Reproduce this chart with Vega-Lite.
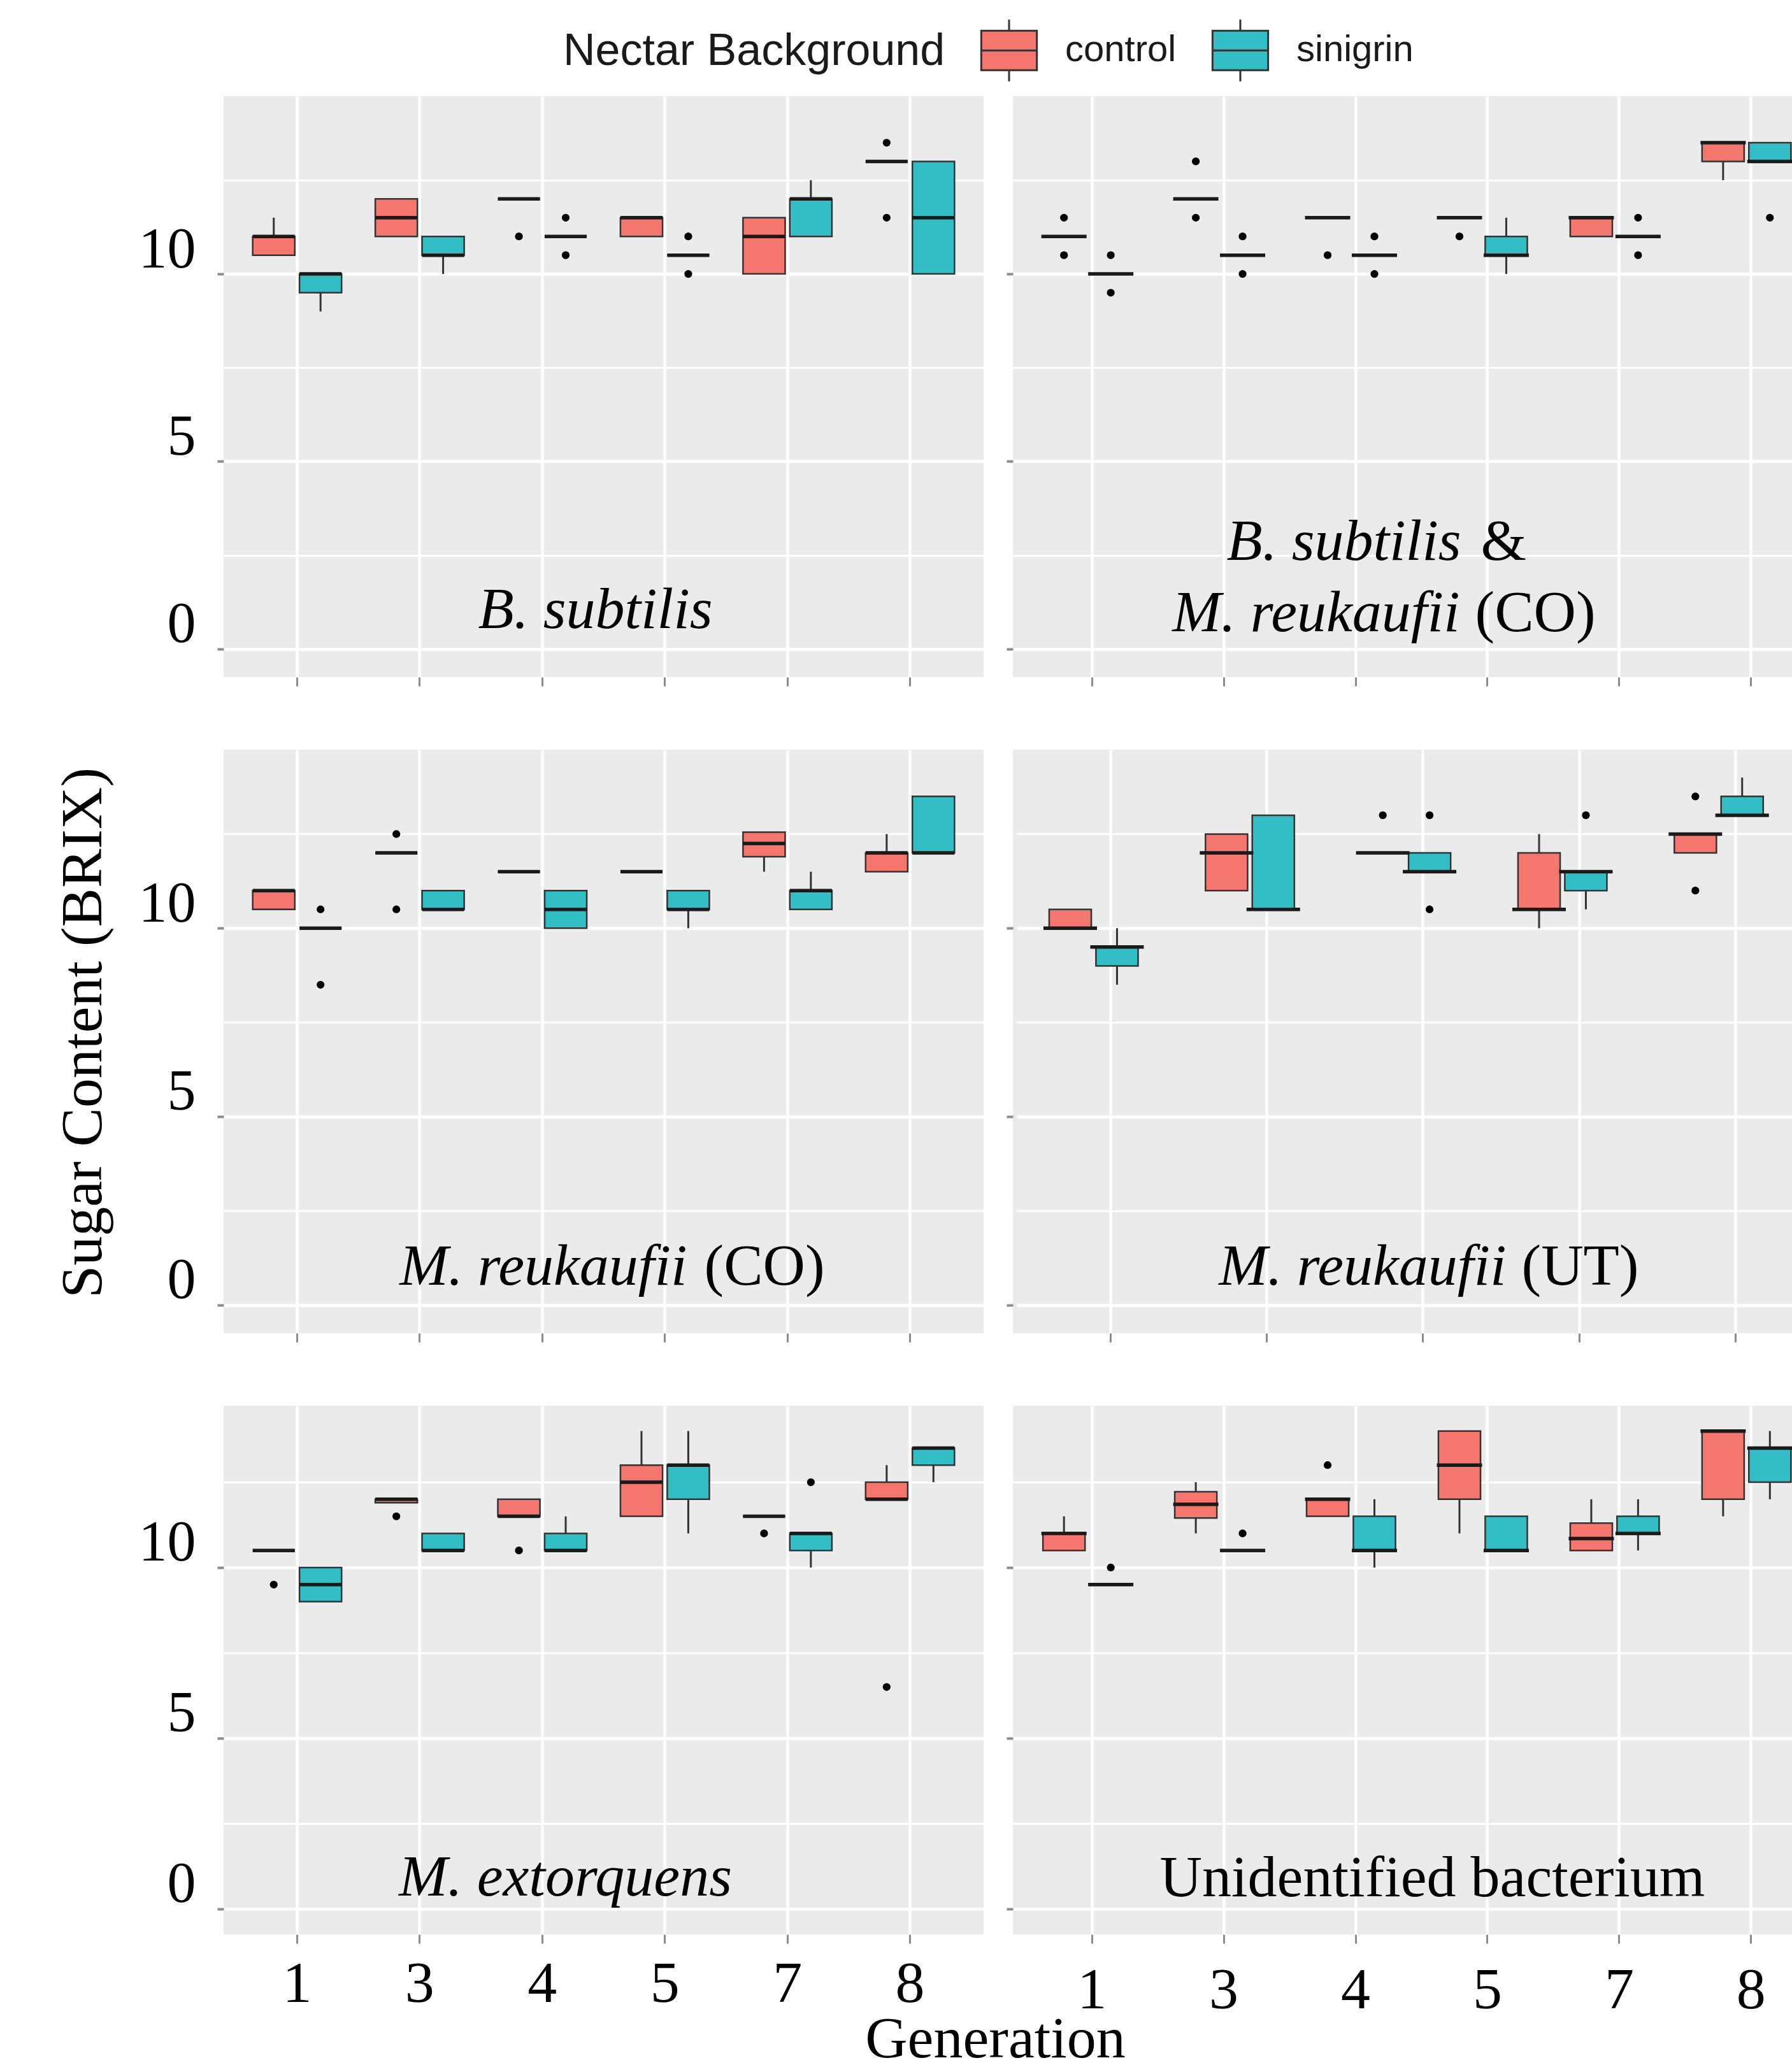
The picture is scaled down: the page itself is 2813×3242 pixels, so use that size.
{
"$schema":"https://vega.github.io/schema/vega-lite/v6.json",
"usermeta":{"embedOptions":{"actions":false}},
"background":"#FFFFFF",
"padding":{"left":83,"top":29,"right":0,"bottom":0},
"autosize":{"type":"pad"},
"datasets":{
"boxes":[
{"panel":"TL","gen":"1","bg":"control","lower":10.5,"q1":10.5,"median":11,"q3":11,"upper":11.5},
{"panel":"TL","gen":"1","bg":"sinigrin","lower":9,"q1":9.5,"median":10,"q3":10,"upper":10},
{"panel":"TL","gen":"3","bg":"control","lower":11,"q1":11,"median":11.5,"q3":12,"upper":12},
{"panel":"TL","gen":"3","bg":"sinigrin","lower":10,"q1":10.5,"median":10.5,"q3":11,"upper":11},
{"panel":"TL","gen":"4","bg":"control","lower":12,"q1":12,"median":12,"q3":12,"upper":12},
{"panel":"TL","gen":"4","bg":"sinigrin","lower":11,"q1":11,"median":11,"q3":11,"upper":11},
{"panel":"TL","gen":"5","bg":"control","lower":11,"q1":11,"median":11.5,"q3":11.5,"upper":11.5},
{"panel":"TL","gen":"5","bg":"sinigrin","lower":10.5,"q1":10.5,"median":10.5,"q3":10.5,"upper":10.5},
{"panel":"TL","gen":"7","bg":"control","lower":10,"q1":10,"median":11,"q3":11.5,"upper":11.5},
{"panel":"TL","gen":"7","bg":"sinigrin","lower":11,"q1":11,"median":12,"q3":12,"upper":12.5},
{"panel":"TL","gen":"8","bg":"control","lower":13,"q1":13,"median":13,"q3":13,"upper":13},
{"panel":"TL","gen":"8","bg":"sinigrin","lower":10,"q1":10,"median":11.5,"q3":13,"upper":13},
{"panel":"TR","gen":"1","bg":"control","lower":11,"q1":11,"median":11,"q3":11,"upper":11},
{"panel":"TR","gen":"1","bg":"sinigrin","lower":10,"q1":10,"median":10,"q3":10,"upper":10},
{"panel":"TR","gen":"3","bg":"control","lower":12,"q1":12,"median":12,"q3":12,"upper":12},
{"panel":"TR","gen":"3","bg":"sinigrin","lower":10.5,"q1":10.5,"median":10.5,"q3":10.5,"upper":10.5},
{"panel":"TR","gen":"4","bg":"control","lower":11.5,"q1":11.5,"median":11.5,"q3":11.5,"upper":11.5},
{"panel":"TR","gen":"4","bg":"sinigrin","lower":10.5,"q1":10.5,"median":10.5,"q3":10.5,"upper":10.5},
{"panel":"TR","gen":"5","bg":"control","lower":11.5,"q1":11.5,"median":11.5,"q3":11.5,"upper":11.5},
{"panel":"TR","gen":"5","bg":"sinigrin","lower":10,"q1":10.5,"median":10.5,"q3":11,"upper":11.5},
{"panel":"TR","gen":"7","bg":"control","lower":11,"q1":11,"median":11.5,"q3":11.5,"upper":11.5},
{"panel":"TR","gen":"7","bg":"sinigrin","lower":11,"q1":11,"median":11,"q3":11,"upper":11},
{"panel":"TR","gen":"8","bg":"control","lower":12.5,"q1":13,"median":13.5,"q3":13.5,"upper":13.5},
{"panel":"TR","gen":"8","bg":"sinigrin","lower":13,"q1":13,"median":13,"q3":13.5,"upper":13.5},
{"panel":"ML","gen":"1","bg":"control","lower":10.5,"q1":10.5,"median":11,"q3":11,"upper":11},
{"panel":"ML","gen":"1","bg":"sinigrin","lower":10,"q1":10,"median":10,"q3":10,"upper":10},
{"panel":"ML","gen":"3","bg":"control","lower":12,"q1":12,"median":12,"q3":12,"upper":12},
{"panel":"ML","gen":"3","bg":"sinigrin","lower":10.5,"q1":10.5,"median":10.5,"q3":11,"upper":11},
{"panel":"ML","gen":"4","bg":"control","lower":11.5,"q1":11.5,"median":11.5,"q3":11.5,"upper":11.5},
{"panel":"ML","gen":"4","bg":"sinigrin","lower":10,"q1":10,"median":10.5,"q3":11,"upper":11},
{"panel":"ML","gen":"5","bg":"control","lower":11.5,"q1":11.5,"median":11.5,"q3":11.5,"upper":11.5},
{"panel":"ML","gen":"5","bg":"sinigrin","lower":10,"q1":10.5,"median":10.5,"q3":11,"upper":11},
{"panel":"ML","gen":"7","bg":"control","lower":11.5,"q1":11.9,"median":12.25,"q3":12.55,"upper":12.55},
{"panel":"ML","gen":"7","bg":"sinigrin","lower":10.5,"q1":10.5,"median":11,"q3":11,"upper":11.5},
{"panel":"ML","gen":"8","bg":"control","lower":11.5,"q1":11.5,"median":12,"q3":12,"upper":12.5},
{"panel":"ML","gen":"8","bg":"sinigrin","lower":12,"q1":12,"median":12,"q3":13.5,"upper":13.5},
{"panel":"MR","gen":"1","bg":"control","lower":10,"q1":10,"median":10,"q3":10.5,"upper":10.5},
{"panel":"MR","gen":"1","bg":"sinigrin","lower":8.5,"q1":9,"median":9.5,"q3":9.5,"upper":10},
{"panel":"MR","gen":"3","bg":"control","lower":11,"q1":11,"median":12,"q3":12.5,"upper":12.5},
{"panel":"MR","gen":"3","bg":"sinigrin","lower":10.5,"q1":10.5,"median":10.5,"q3":13,"upper":13},
{"panel":"MR","gen":"4","bg":"control","lower":12,"q1":12,"median":12,"q3":12,"upper":12},
{"panel":"MR","gen":"4","bg":"sinigrin","lower":11.5,"q1":11.5,"median":11.5,"q3":12,"upper":12},
{"panel":"MR","gen":"5","bg":"control","lower":10,"q1":10.5,"median":10.5,"q3":12,"upper":12.5},
{"panel":"MR","gen":"5","bg":"sinigrin","lower":10.5,"q1":11,"median":11.5,"q3":11.5,"upper":11.5},
{"panel":"MR","gen":"7","bg":"control","lower":12,"q1":12,"median":12.5,"q3":12.5,"upper":12.5},
{"panel":"MR","gen":"7","bg":"sinigrin","lower":13,"q1":13,"median":13,"q3":13.5,"upper":14},
{"panel":"BL","gen":"1","bg":"control","lower":10.5,"q1":10.5,"median":10.5,"q3":10.5,"upper":10.5},
{"panel":"BL","gen":"1","bg":"sinigrin","lower":9,"q1":9,"median":9.5,"q3":10,"upper":10},
{"panel":"BL","gen":"3","bg":"control","lower":11.9,"q1":11.9,"median":12,"q3":12,"upper":12},
{"panel":"BL","gen":"3","bg":"sinigrin","lower":10.5,"q1":10.5,"median":10.5,"q3":11,"upper":11},
{"panel":"BL","gen":"4","bg":"control","lower":11.5,"q1":11.5,"median":11.5,"q3":12,"upper":12},
{"panel":"BL","gen":"4","bg":"sinigrin","lower":10.5,"q1":10.5,"median":10.5,"q3":11,"upper":11.5},
{"panel":"BL","gen":"5","bg":"control","lower":11.5,"q1":11.5,"median":12.5,"q3":13,"upper":14},
{"panel":"BL","gen":"5","bg":"sinigrin","lower":11,"q1":12,"median":13,"q3":13,"upper":14},
{"panel":"BL","gen":"7","bg":"control","lower":11.5,"q1":11.5,"median":11.5,"q3":11.5,"upper":11.5},
{"panel":"BL","gen":"7","bg":"sinigrin","lower":10,"q1":10.5,"median":11,"q3":11,"upper":11},
{"panel":"BL","gen":"8","bg":"control","lower":12,"q1":12,"median":12,"q3":12.5,"upper":13},
{"panel":"BL","gen":"8","bg":"sinigrin","lower":12.5,"q1":13,"median":13.5,"q3":13.5,"upper":13.5},
{"panel":"BR","gen":"1","bg":"control","lower":10.5,"q1":10.5,"median":11,"q3":11,"upper":11.5},
{"panel":"BR","gen":"1","bg":"sinigrin","lower":9.5,"q1":9.5,"median":9.5,"q3":9.5,"upper":9.5},
{"panel":"BR","gen":"3","bg":"control","lower":11,"q1":11.45,"median":11.85,"q3":12.22,"upper":12.5},
{"panel":"BR","gen":"3","bg":"sinigrin","lower":10.5,"q1":10.5,"median":10.5,"q3":10.5,"upper":10.5},
{"panel":"BR","gen":"4","bg":"control","lower":11.5,"q1":11.5,"median":12,"q3":12,"upper":12},
{"panel":"BR","gen":"4","bg":"sinigrin","lower":10,"q1":10.5,"median":10.5,"q3":11.5,"upper":12},
{"panel":"BR","gen":"5","bg":"control","lower":11,"q1":12,"median":13,"q3":14,"upper":14},
{"panel":"BR","gen":"5","bg":"sinigrin","lower":10.5,"q1":10.5,"median":10.5,"q3":11.5,"upper":11.5},
{"panel":"BR","gen":"7","bg":"control","lower":10.5,"q1":10.5,"median":10.85,"q3":11.3,"upper":12},
{"panel":"BR","gen":"7","bg":"sinigrin","lower":10.5,"q1":11,"median":11,"q3":11.5,"upper":12},
{"panel":"BR","gen":"8","bg":"control","lower":11.5,"q1":12,"median":14,"q3":14,"upper":14},
{"panel":"BR","gen":"8","bg":"sinigrin","lower":12,"q1":12.5,"median":13.5,"q3":13.5,"upper":14}
],
"outliers":[
{"panel":"TL","gen":"4","bg":"control","value":11},
{"panel":"TL","gen":"4","bg":"sinigrin","value":11.5},
{"panel":"TL","gen":"4","bg":"sinigrin","value":10.5},
{"panel":"TL","gen":"5","bg":"sinigrin","value":11},
{"panel":"TL","gen":"5","bg":"sinigrin","value":10},
{"panel":"TL","gen":"8","bg":"control","value":13.5},
{"panel":"TL","gen":"8","bg":"control","value":11.5},
{"panel":"TR","gen":"1","bg":"control","value":11.5},
{"panel":"TR","gen":"1","bg":"control","value":10.5},
{"panel":"TR","gen":"1","bg":"sinigrin","value":10.5},
{"panel":"TR","gen":"1","bg":"sinigrin","value":9.5},
{"panel":"TR","gen":"3","bg":"control","value":13},
{"panel":"TR","gen":"3","bg":"control","value":11.5},
{"panel":"TR","gen":"3","bg":"sinigrin","value":11},
{"panel":"TR","gen":"3","bg":"sinigrin","value":10},
{"panel":"TR","gen":"4","bg":"control","value":10.5},
{"panel":"TR","gen":"4","bg":"sinigrin","value":11},
{"panel":"TR","gen":"4","bg":"sinigrin","value":10},
{"panel":"TR","gen":"5","bg":"control","value":11},
{"panel":"TR","gen":"7","bg":"sinigrin","value":11.5},
{"panel":"TR","gen":"7","bg":"sinigrin","value":10.5},
{"panel":"TR","gen":"8","bg":"sinigrin","value":11.5},
{"panel":"ML","gen":"1","bg":"sinigrin","value":10.5},
{"panel":"ML","gen":"1","bg":"sinigrin","value":8.5},
{"panel":"ML","gen":"3","bg":"control","value":12.5},
{"panel":"ML","gen":"3","bg":"control","value":10.5},
{"panel":"MR","gen":"4","bg":"control","value":13},
{"panel":"MR","gen":"4","bg":"sinigrin","value":13},
{"panel":"MR","gen":"4","bg":"sinigrin","value":10.5},
{"panel":"MR","gen":"5","bg":"sinigrin","value":13},
{"panel":"MR","gen":"7","bg":"control","value":13.5},
{"panel":"MR","gen":"7","bg":"control","value":11},
{"panel":"BL","gen":"1","bg":"control","value":9.5},
{"panel":"BL","gen":"3","bg":"control","value":11.5},
{"panel":"BL","gen":"4","bg":"control","value":10.5},
{"panel":"BL","gen":"7","bg":"control","value":11},
{"panel":"BL","gen":"7","bg":"sinigrin","value":12.5},
{"panel":"BL","gen":"8","bg":"control","value":6.5},
{"panel":"BR","gen":"1","bg":"sinigrin","value":10},
{"panel":"BR","gen":"3","bg":"sinigrin","value":11},
{"panel":"BR","gen":"4","bg":"control","value":13}
],
"labels":[
{"id":"TL","label":"B. subtilis"},
{"id":"TR1a","label":"B. subtilis"},
{"id":"TR1b","label":"&"},
{"id":"TR2a","label":"M. reukaufii"},
{"id":"TR2b","label":"(CO)"},
{"id":"MLa","label":"M. reukaufii"},
{"id":"MLb","label":"(CO)"},
{"id":"MRa","label":"M. reukaufii"},
{"id":"MRb","label":"(UT)"},
{"id":"BL","label":"M. extorquens"},
{"id":"BR","label":"Unidentified bacterium"}
]
},
"config":{
"view":{"fill":"#EBEBEB","stroke":null},
"axis":{"domain":false,"grid":true,"gridColor":"#FFFFFF","tickColor":"#8c8c8c","labelColor":"#000000","labelFont":"Liberation Serif","titleFont":"Liberation Serif","titleColor":"#000000","titleFontWeight":"normal"},
"legend":{"labelLimit":0,"titleLimit":0}
},
"columns":2,
"bounds":"flush",
"align":"each",
"spacing":{"row":114,"column":46},
"concat":[
{"width":1193,"height":912,
"layer":[
{"data":{"name":"boxes"},"transform":[{"filter":"datum.panel==='TL'"}],
"mark":{"type":"rule","color":"#333333","strokeWidth":3},
"encoding":{
"x":{"field":"gen","type":"nominal","scale":{"type":"band","domain":["1","3","4","5","7","8"],"paddingInner":0,"paddingOuter":0.1},"axis":{"title":null,"labels":false,"tickSize":14,"tickWidth":3,"gridWidth":4.5,"bandPosition":0.5}},
"xOffset":{"field":"bg","type":"nominal","scale":{"domain":["control","sinigrin"],"paddingInner":0.1,"paddingOuter":0.36}},
"y":{"field":"lower","type":"quantitative","scale":{"domain":[-0.75,14.74],"nice":false,"zero":false},"axis":{"title":null,"values":[0,2.5,5,7.5,10,12.5],"labelExpr":"datum.value % 5 === 0 ? '' + datum.value : ''","tickOpacity":{"condition":{"test":"datum.value % 5 === 0","value":1},"value":0},"gridWidth":{"condition":{"test":"datum.value % 5 === 0","value":4.5},"value":3},"tickSize":10,"tickWidth":4,"labelPadding":34,"labelOffset":-38,"labelFontSize":90}},
"y2":{"field":"upper"}}},
{"data":{"name":"boxes"},"transform":[{"filter":"datum.panel==='TL'"}],
"mark":{"type":"bar","stroke":"#333333","strokeWidth":2.5,"opacity":1},
"encoding":{"x":{"field":"gen","type":"nominal"},"xOffset":{"field":"bg","type":"nominal"},"y":{"field":"q1","type":"quantitative"},"y2":{"field":"q3"},
"color":{"field":"bg","type":"nominal","scale":{"domain":["control","sinigrin"],"range":["#F5766E","#33BDC5"]},"legend":{"title":"Nectar Background","orient":"none","legendX":533,"legendY":-122,"direction":"horizontal","titleOrient":"left","titleAnchor":"middle","titleBaseline":"middle","titleFont":"Liberation Sans","titleFontSize":70,"titleFontWeight":"normal","titleColor":"#1a1a1a","titlePadding":50,"titleLimit":0,"labelLimit":0,"labelFont":"Liberation Sans","labelFontSize":58,"labelColor":"#1a1a1a","labelOffset":38,"columnPadding":50,"symbolType":"M-0.9,-0.64H0.9V0.64H-0.9Z M-0.9,0H0.9 M0,-0.64V-1 M0,0.64V1","symbolSize":9409,"symbolStrokeColor":"#333333","symbolStrokeWidth":3,"padding":0}}}},
{"data":{"name":"boxes"},"transform":[{"filter":"datum.panel==='TL'"}],
"mark":{"type":"tick","orient":"horizontal","color":"#1a1a1a","size":66,"thickness":5.5,"opacity":1},
"encoding":{"x":{"field":"gen","type":"nominal"},"xOffset":{"field":"bg","type":"nominal"},"y":{"field":"median","type":"quantitative"}}},
{"data":{"name":"outliers"},"transform":[{"filter":"datum.panel==='TL'"}],
"mark":{"type":"point","filled":true,"color":"#000000","size":150,"opacity":1},
"encoding":{"x":{"field":"gen","type":"nominal"},"xOffset":{"field":"bg","type":"nominal"},"y":{"field":"value","type":"quantitative"}}},
{"data":{"name":"labels"},"transform":[{"filter":"datum.id==='TL'"}],
"mark":{"type":"text","font":"Liberation Serif","fontSize":92,"fontStyle":"italic","align":"center","baseline":"alphabetic","dx":-13,"color":"#000000"},
"encoding":{"text":{"field":"label"},"y":{"datum":0.56}}}
]},
{"width":1225,"height":912,
"layer":[
{"data":{"name":"boxes"},"transform":[{"filter":"datum.panel==='TR'"}],
"mark":{"type":"rule","color":"#333333","strokeWidth":3,"clip":true},
"encoding":{
"x":{"field":"gen","type":"nominal","scale":{"type":"band","domain":["1","3","4","5","7","8"],"paddingInner":0,"paddingOuter":0.1,"range":[0,1283]},"axis":{"title":null,"labels":false,"tickSize":14,"tickWidth":3,"gridWidth":4.5,"bandPosition":0.5}},
"xOffset":{"field":"bg","type":"nominal","scale":{"domain":["control","sinigrin"],"paddingInner":0.1,"paddingOuter":0.36}},
"y":{"field":"lower","type":"quantitative","scale":{"domain":[-0.75,14.74],"nice":false,"zero":false},"axis":{"title":null,"values":[0,2.5,5,7.5,10,12.5],"labels":false,"tickOpacity":{"condition":{"test":"datum.value % 5 === 0","value":1},"value":0},"gridWidth":{"condition":{"test":"datum.value % 5 === 0","value":4.5},"value":3},"tickSize":10,"tickWidth":4}},
"y2":{"field":"upper"}}},
{"data":{"name":"boxes"},"transform":[{"filter":"datum.panel==='TR'"}],
"mark":{"type":"bar","stroke":"#333333","strokeWidth":2.5,"opacity":1,"clip":true},
"encoding":{"x":{"field":"gen","type":"nominal"},"xOffset":{"field":"bg","type":"nominal"},"y":{"field":"q1","type":"quantitative"},"y2":{"field":"q3"},
"color":{"field":"bg","type":"nominal","scale":{"domain":["control","sinigrin"],"range":["#F5766E","#33BDC5"]},"legend":{"title":"Nectar Background","orient":"none","legendX":533,"legendY":-122,"direction":"horizontal","titleOrient":"left","titleAnchor":"middle","titleBaseline":"middle","titleFont":"Liberation Sans","titleFontSize":70,"titleFontWeight":"normal","titleColor":"#1a1a1a","titlePadding":50,"titleLimit":0,"labelLimit":0,"labelFont":"Liberation Sans","labelFontSize":58,"labelColor":"#1a1a1a","labelOffset":38,"columnPadding":50,"symbolType":"M-0.9,-0.64H0.9V0.64H-0.9Z M-0.9,0H0.9 M0,-0.64V-1 M0,0.64V1","symbolSize":9409,"symbolStrokeColor":"#333333","symbolStrokeWidth":3,"padding":0}}}},
{"data":{"name":"boxes"},"transform":[{"filter":"datum.panel==='TR'"}],
"mark":{"type":"tick","orient":"horizontal","color":"#1a1a1a","size":71,"thickness":5.5,"opacity":1,"clip":true},
"encoding":{"x":{"field":"gen","type":"nominal"},"xOffset":{"field":"bg","type":"nominal"},"y":{"field":"median","type":"quantitative"}}},
{"data":{"name":"outliers"},"transform":[{"filter":"datum.panel==='TR'"}],
"mark":{"type":"point","filled":true,"color":"#000000","size":150,"opacity":1,"clip":true},
"encoding":{"x":{"field":"gen","type":"nominal"},"xOffset":{"field":"bg","type":"nominal"},"y":{"field":"value","type":"quantitative"}}},
{"data":{"name":"labels"},"transform":[{"filter":"datum.id==='TR1a'"}],
"mark":{"type":"text","font":"Liberation Serif","fontSize":92,"fontStyle":"italic","align":"right","baseline":"alphabetic","dx":91,"color":"#000000"},
"encoding":{"text":{"field":"label"},"y":{"datum":2.38}}},
{"data":{"name":"labels"},"transform":[{"filter":"datum.id==='TR1b'"}],
"mark":{"type":"text","font":"Liberation Serif","fontSize":92,"fontStyle":"normal","align":"left","baseline":"alphabetic","dx":122,"color":"#000000"},
"encoding":{"text":{"field":"label"},"y":{"datum":2.38}}},
{"data":{"name":"labels"},"transform":[{"filter":"datum.id==='TR2a'"}],
"mark":{"type":"text","font":"Liberation Serif","fontSize":92,"fontStyle":"italic","align":"right","baseline":"alphabetic","dx":89,"color":"#000000"},
"encoding":{"text":{"field":"label"},"y":{"datum":0.48}}},
{"data":{"name":"labels"},"transform":[{"filter":"datum.id==='TR2b'"}],
"mark":{"type":"text","font":"Liberation Serif","fontSize":92,"fontStyle":"normal","align":"left","baseline":"alphabetic","dx":113,"color":"#000000"},
"encoding":{"text":{"field":"label"},"y":{"datum":0.48}}}
]},
{"width":1193,"height":916,
"layer":[
{"data":{"name":"boxes"},"transform":[{"filter":"datum.panel==='ML'"}],
"mark":{"type":"rule","color":"#333333","strokeWidth":3},
"encoding":{
"x":{"field":"gen","type":"nominal","scale":{"type":"band","domain":["1","3","4","5","7","8"],"paddingInner":0,"paddingOuter":0.1},"axis":{"title":null,"labels":false,"tickSize":14,"tickWidth":3,"gridWidth":4.5,"bandPosition":0.5}},
"xOffset":{"field":"bg","type":"nominal","scale":{"domain":["control","sinigrin"],"paddingInner":0.1,"paddingOuter":0.36}},
"y":{"field":"lower","type":"quantitative","scale":{"domain":[-0.75,14.74],"nice":false,"zero":false},"axis":{"title":"Sugar Content (BRIX)","titleX":-193,"titleY":444,"titleAngle":270,"titleAlign":"center","titleBaseline":"alphabetic","titleFontSize":92,"values":[0,2.5,5,7.5,10,12.5],"labelExpr":"datum.value % 5 === 0 ? '' + datum.value : ''","tickOpacity":{"condition":{"test":"datum.value % 5 === 0","value":1},"value":0},"gridWidth":{"condition":{"test":"datum.value % 5 === 0","value":4.5},"value":3},"tickSize":10,"tickWidth":4,"labelPadding":34,"labelOffset":-38,"labelFontSize":90}},
"y2":{"field":"upper"}}},
{"data":{"name":"boxes"},"transform":[{"filter":"datum.panel==='ML'"}],
"mark":{"type":"bar","stroke":"#333333","strokeWidth":2.5,"opacity":1},
"encoding":{"x":{"field":"gen","type":"nominal"},"xOffset":{"field":"bg","type":"nominal"},"y":{"field":"q1","type":"quantitative"},"y2":{"field":"q3"},
"color":{"field":"bg","type":"nominal","scale":{"domain":["control","sinigrin"],"range":["#F5766E","#33BDC5"]},"legend":{"title":"Nectar Background","orient":"none","legendX":533,"legendY":-122,"direction":"horizontal","titleOrient":"left","titleAnchor":"middle","titleBaseline":"middle","titleFont":"Liberation Sans","titleFontSize":70,"titleFontWeight":"normal","titleColor":"#1a1a1a","titlePadding":50,"titleLimit":0,"labelLimit":0,"labelFont":"Liberation Sans","labelFontSize":58,"labelColor":"#1a1a1a","labelOffset":38,"columnPadding":50,"symbolType":"M-0.9,-0.64H0.9V0.64H-0.9Z M-0.9,0H0.9 M0,-0.64V-1 M0,0.64V1","symbolSize":9409,"symbolStrokeColor":"#333333","symbolStrokeWidth":3,"padding":0}}}},
{"data":{"name":"boxes"},"transform":[{"filter":"datum.panel==='ML'"}],
"mark":{"type":"tick","orient":"horizontal","color":"#1a1a1a","size":66,"thickness":5.5,"opacity":1},
"encoding":{"x":{"field":"gen","type":"nominal"},"xOffset":{"field":"bg","type":"nominal"},"y":{"field":"median","type":"quantitative"}}},
{"data":{"name":"outliers"},"transform":[{"filter":"datum.panel==='ML'"}],
"mark":{"type":"point","filled":true,"color":"#000000","size":150,"opacity":1},
"encoding":{"x":{"field":"gen","type":"nominal"},"xOffset":{"field":"bg","type":"nominal"},"y":{"field":"value","type":"quantitative"}}},
{"data":{"name":"labels"},"transform":[{"filter":"datum.id==='MLa'"}],
"mark":{"type":"text","font":"Liberation Serif","fontSize":92,"fontStyle":"italic","align":"right","baseline":"alphabetic","dx":131,"color":"#000000"},
"encoding":{"text":{"field":"label"},"y":{"datum":0.53}}},
{"data":{"name":"labels"},"transform":[{"filter":"datum.id==='MLb'"}],
"mark":{"type":"text","font":"Liberation Serif","fontSize":92,"fontStyle":"normal","align":"left","baseline":"alphabetic","dx":158,"color":"#000000"},
"encoding":{"text":{"field":"label"},"y":{"datum":0.53}}}
]},
{"width":1225,"height":916,
"layer":[
{"data":{"name":"boxes"},"transform":[{"filter":"datum.panel==='MR'"}],
"mark":{"type":"rule","color":"#333333","strokeWidth":3,"clip":true},
"encoding":{
"x":{"field":"gen","type":"nominal","scale":{"type":"band","domain":["1","3","4","5","7","8"],"paddingInner":0,"paddingOuter":0.1,"range":[6,1527]},"axis":{"title":null,"labels":false,"values":["1","3","4","5","7"],"tickSize":14,"tickWidth":3,"gridWidth":4.5,"bandPosition":0.5}},
"xOffset":{"field":"bg","type":"nominal","scale":{"domain":["control","sinigrin"],"paddingInner":0.1,"paddingOuter":0.36}},
"y":{"field":"lower","type":"quantitative","scale":{"domain":[-0.75,14.74],"nice":false,"zero":false},"axis":{"title":null,"values":[0,2.5,5,7.5,10,12.5],"labels":false,"tickOpacity":{"condition":{"test":"datum.value % 5 === 0","value":1},"value":0},"gridWidth":{"condition":{"test":"datum.value % 5 === 0","value":4.5},"value":3},"tickSize":10,"tickWidth":4}},
"y2":{"field":"upper"}}},
{"data":{"name":"boxes"},"transform":[{"filter":"datum.panel==='MR'"}],
"mark":{"type":"bar","stroke":"#333333","strokeWidth":2.5,"opacity":1,"clip":true},
"encoding":{"x":{"field":"gen","type":"nominal"},"xOffset":{"field":"bg","type":"nominal"},"y":{"field":"q1","type":"quantitative"},"y2":{"field":"q3"},
"color":{"field":"bg","type":"nominal","scale":{"domain":["control","sinigrin"],"range":["#F5766E","#33BDC5"]},"legend":{"title":"Nectar Background","orient":"none","legendX":533,"legendY":-122,"direction":"horizontal","titleOrient":"left","titleAnchor":"middle","titleBaseline":"middle","titleFont":"Liberation Sans","titleFontSize":70,"titleFontWeight":"normal","titleColor":"#1a1a1a","titlePadding":50,"titleLimit":0,"labelLimit":0,"labelFont":"Liberation Sans","labelFontSize":58,"labelColor":"#1a1a1a","labelOffset":38,"columnPadding":50,"symbolType":"M-0.9,-0.64H0.9V0.64H-0.9Z M-0.9,0H0.9 M0,-0.64V-1 M0,0.64V1","symbolSize":9409,"symbolStrokeColor":"#333333","symbolStrokeWidth":3,"padding":0}}}},
{"data":{"name":"boxes"},"transform":[{"filter":"datum.panel==='MR'"}],
"mark":{"type":"tick","orient":"horizontal","color":"#1a1a1a","size":84,"thickness":5.5,"opacity":1,"clip":true},
"encoding":{"x":{"field":"gen","type":"nominal"},"xOffset":{"field":"bg","type":"nominal"},"y":{"field":"median","type":"quantitative"}}},
{"data":{"name":"outliers"},"transform":[{"filter":"datum.panel==='MR'"}],
"mark":{"type":"point","filled":true,"color":"#000000","size":150,"opacity":1,"clip":true},
"encoding":{"x":{"field":"gen","type":"nominal"},"xOffset":{"field":"bg","type":"nominal"},"y":{"field":"value","type":"quantitative"}}},
{"data":{"name":"labels"},"transform":[{"filter":"datum.id==='MRa'"}],
"mark":{"type":"text","font":"Liberation Serif","fontSize":92,"fontStyle":"italic","align":"right","baseline":"alphabetic","dx":162,"color":"#000000"},
"encoding":{"text":{"field":"label"},"y":{"datum":0.53}}},
{"data":{"name":"labels"},"transform":[{"filter":"datum.id==='MRb'"}],
"mark":{"type":"text","font":"Liberation Serif","fontSize":92,"fontStyle":"normal","align":"left","baseline":"alphabetic","dx":186,"color":"#000000"},
"encoding":{"text":{"field":"label"},"y":{"datum":0.53}}}
]},
{"width":1193,"height":830,
"layer":[
{"data":{"name":"boxes"},"transform":[{"filter":"datum.panel==='BL'"}],
"mark":{"type":"rule","color":"#333333","strokeWidth":3},
"encoding":{
"x":{"field":"gen","type":"nominal","scale":{"type":"band","domain":["1","3","4","5","7","8"],"paddingInner":0,"paddingOuter":0.1},"axis":{"title":"Generation","titleX":1211,"titleY":192,"titleAlign":"center","titleBaseline":"alphabetic","titleFontSize":92,"labels":true,"labelAngle":0,"labelFontSize":92,"labelPadding":18,"tickSize":14,"tickWidth":3,"gridWidth":4.5,"bandPosition":0.5}},
"xOffset":{"field":"bg","type":"nominal","scale":{"domain":["control","sinigrin"],"paddingInner":0.1,"paddingOuter":0.36}},
"y":{"field":"lower","type":"quantitative","scale":{"domain":[-0.75,14.74],"nice":false,"zero":false},"axis":{"title":null,"values":[0,2.5,5,7.5,10,12.5],"labelExpr":"datum.value % 5 === 0 ? '' + datum.value : ''","tickOpacity":{"condition":{"test":"datum.value % 5 === 0","value":1},"value":0},"gridWidth":{"condition":{"test":"datum.value % 5 === 0","value":4.5},"value":3},"tickSize":10,"tickWidth":4,"labelPadding":34,"labelOffset":-38,"labelFontSize":90}},
"y2":{"field":"upper"}}},
{"data":{"name":"boxes"},"transform":[{"filter":"datum.panel==='BL'"}],
"mark":{"type":"bar","stroke":"#333333","strokeWidth":2.5,"opacity":1},
"encoding":{"x":{"field":"gen","type":"nominal"},"xOffset":{"field":"bg","type":"nominal"},"y":{"field":"q1","type":"quantitative"},"y2":{"field":"q3"},
"color":{"field":"bg","type":"nominal","scale":{"domain":["control","sinigrin"],"range":["#F5766E","#33BDC5"]},"legend":{"title":"Nectar Background","orient":"none","legendX":533,"legendY":-122,"direction":"horizontal","titleOrient":"left","titleAnchor":"middle","titleBaseline":"middle","titleFont":"Liberation Sans","titleFontSize":70,"titleFontWeight":"normal","titleColor":"#1a1a1a","titlePadding":50,"titleLimit":0,"labelLimit":0,"labelFont":"Liberation Sans","labelFontSize":58,"labelColor":"#1a1a1a","labelOffset":38,"columnPadding":50,"symbolType":"M-0.9,-0.64H0.9V0.64H-0.9Z M-0.9,0H0.9 M0,-0.64V-1 M0,0.64V1","symbolSize":9409,"symbolStrokeColor":"#333333","symbolStrokeWidth":3,"padding":0}}}},
{"data":{"name":"boxes"},"transform":[{"filter":"datum.panel==='BL'"}],
"mark":{"type":"tick","orient":"horizontal","color":"#1a1a1a","size":66,"thickness":5.5,"opacity":1},
"encoding":{"x":{"field":"gen","type":"nominal"},"xOffset":{"field":"bg","type":"nominal"},"y":{"field":"median","type":"quantitative"}}},
{"data":{"name":"outliers"},"transform":[{"filter":"datum.panel==='BL'"}],
"mark":{"type":"point","filled":true,"color":"#000000","size":150,"opacity":1},
"encoding":{"x":{"field":"gen","type":"nominal"},"xOffset":{"field":"bg","type":"nominal"},"y":{"field":"value","type":"quantitative"}}},
{"data":{"name":"labels"},"transform":[{"filter":"datum.id==='BL'"}],
"mark":{"type":"text","font":"Liberation Serif","fontSize":92,"fontStyle":"italic","align":"center","baseline":"alphabetic","dx":-60,"color":"#000000"},
"encoding":{"text":{"field":"label"},"y":{"datum":0.39}}}
]},
{"width":1225,"height":830,
"layer":[
{"data":{"name":"boxes"},"transform":[{"filter":"datum.panel==='BR'"}],
"mark":{"type":"rule","color":"#333333","strokeWidth":3,"clip":true},
"encoding":{
"x":{"field":"gen","type":"nominal","scale":{"type":"band","domain":["1","3","4","5","7","8"],"paddingInner":0,"paddingOuter":0.1,"range":[0,1283]},"axis":{"title":null,"labels":true,"labelAngle":0,"labelFontSize":92,"labelPadding":28,"tickSize":14,"tickWidth":3,"gridWidth":4.5,"bandPosition":0.5}},
"xOffset":{"field":"bg","type":"nominal","scale":{"domain":["control","sinigrin"],"paddingInner":0.1,"paddingOuter":0.36}},
"y":{"field":"lower","type":"quantitative","scale":{"domain":[-0.75,14.74],"nice":false,"zero":false},"axis":{"title":null,"values":[0,2.5,5,7.5,10,12.5],"labels":false,"tickOpacity":{"condition":{"test":"datum.value % 5 === 0","value":1},"value":0},"gridWidth":{"condition":{"test":"datum.value % 5 === 0","value":4.5},"value":3},"tickSize":10,"tickWidth":4}},
"y2":{"field":"upper"}}},
{"data":{"name":"boxes"},"transform":[{"filter":"datum.panel==='BR'"}],
"mark":{"type":"bar","stroke":"#333333","strokeWidth":2.5,"opacity":1,"clip":true},
"encoding":{"x":{"field":"gen","type":"nominal"},"xOffset":{"field":"bg","type":"nominal"},"y":{"field":"q1","type":"quantitative"},"y2":{"field":"q3"},
"color":{"field":"bg","type":"nominal","scale":{"domain":["control","sinigrin"],"range":["#F5766E","#33BDC5"]},"legend":{"title":"Nectar Background","orient":"none","legendX":533,"legendY":-122,"direction":"horizontal","titleOrient":"left","titleAnchor":"middle","titleBaseline":"middle","titleFont":"Liberation Sans","titleFontSize":70,"titleFontWeight":"normal","titleColor":"#1a1a1a","titlePadding":50,"titleLimit":0,"labelLimit":0,"labelFont":"Liberation Sans","labelFontSize":58,"labelColor":"#1a1a1a","labelOffset":38,"columnPadding":50,"symbolType":"M-0.9,-0.64H0.9V0.64H-0.9Z M-0.9,0H0.9 M0,-0.64V-1 M0,0.64V1","symbolSize":9409,"symbolStrokeColor":"#333333","symbolStrokeWidth":3,"padding":0}}}},
{"data":{"name":"boxes"},"transform":[{"filter":"datum.panel==='BR'"}],
"mark":{"type":"tick","orient":"horizontal","color":"#1a1a1a","size":71,"thickness":5.5,"opacity":1,"clip":true},
"encoding":{"x":{"field":"gen","type":"nominal"},"xOffset":{"field":"bg","type":"nominal"},"y":{"field":"median","type":"quantitative"}}},
{"data":{"name":"outliers"},"transform":[{"filter":"datum.panel==='BR'"}],
"mark":{"type":"point","filled":true,"color":"#000000","size":150,"opacity":1,"clip":true},
"encoding":{"x":{"field":"gen","type":"nominal"},"xOffset":{"field":"bg","type":"nominal"},"y":{"field":"value","type":"quantitative"}}},
{"data":{"name":"labels"},"transform":[{"filter":"datum.id==='BR'"}],
"mark":{"type":"text","font":"Liberation Serif","fontSize":92,"fontStyle":"normal","align":"center","baseline":"alphabetic","dx":46,"color":"#000000"},
"encoding":{"text":{"field":"label"},"y":{"datum":0.37}}}
]}
]
}
